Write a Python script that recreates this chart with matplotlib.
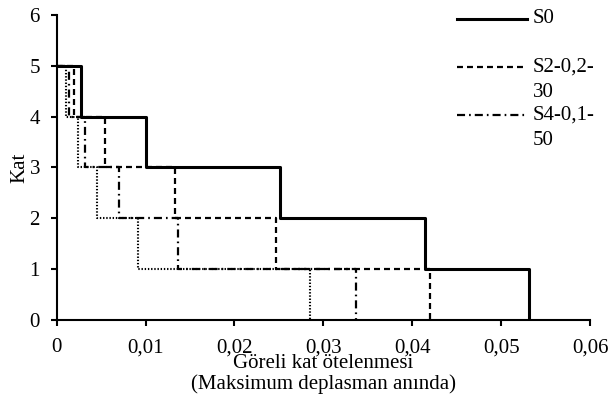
import matplotlib
matplotlib.use("Agg")
import matplotlib.pyplot as plt
import numpy as np

plt.rcParams['font.family'] = ['Liberation Serif', 'DejaVu Serif']
plt.rcParams['lines.scale_dashes'] = False

# story drift per story (stories 1..5)
stories = [1, 2, 3, 4, 5]
s0 = [0.0531, 0.0414, 0.0251, 0.0100, 0.00275]
s2 = [0.0420, 0.0247, 0.0133, 0.00545, 0.0019]
s4 = [0.0337, 0.0137, 0.0070, 0.0032, 0.0014]
s_dot = [0.0285, 0.0091, 0.0045, 0.0024, 0.0010]

labels = [["S0"], ["S2-0,2-", "30"], ["S4-0,1-", "50"]]
x_ticks = [0, 0.01, 0.02, 0.03, 0.04, 0.05, 0.06]
x_ticklabels = ["0", "0,01", "0,02", "0,03", "0,04", "0,05", "0,06"]
y_ticks = [0, 1, 2, 3, 4, 5, 6]

FS = 15


def step_xy(vals):
    xs, ys = [0.0], [stories[-1]]
    for st in reversed(stories):
        v = vals[st - 1]
        xs += [v, v]
        ys += [st, st - 1]
    return xs, ys


fig = plt.figure(figsize=(6.09, 4.01), dpi=100)
ax = fig.add_axes([0.093, 0.202, 0.876, 0.761])

styles = [
    dict(lw=2.2),
    dict(lw=1.6, dashes=(4.3, 2.9)),
    dict(lw=1.6, dashes=(5.8, 2.9, 1.2, 2.9)),
]

x, y = step_xy(s_dot)
ax.plot(x, y, color='black', lw=1.5, dashes=(1.0, 1.3))
x, y = step_xy(s4)
ax.plot(x, y, color='black', **styles[2])
x, y = step_xy(s2)
ax.plot(x, y, color='black', **styles[1])
x, y = step_xy(s0)
ax.plot(x, y, color='black', **styles[0])

ax.set_xlim(0, 0.06)
ax.set_ylim(0, 6)
ax.set_xticks(x_ticks)
ax.set_xticklabels(x_ticklabels)
ax.set_yticks(y_ticks)
ax.tick_params(direction='out', length=4, width=1.5, labelsize=FS)
ax.tick_params(axis='y', pad=8)
ax.tick_params(axis='x', pad=9)
for side in ['top', 'right']:
    ax.spines[side].set_visible(False)
for side in ['left', 'bottom']:
    ax.spines[side].set_linewidth(1.5)

ax.set_ylabel("Kat", fontsize=FS, labelpad=0)
ax.set_xlabel("Göreli kat ötelenmesi\n(Maksimum deplasman anında)", fontsize=FS,
              linespacing=1.05)
ax.xaxis.set_label_coords(0.5, -0.112, transform=ax.transAxes)
ax.xaxis.label.set_va('top')

# legend drawn manually (handle aligned with first text line)
leg_x0, leg_x1, txt_x = 0.751, 0.882, 0.893
leg_y = [0.987, 0.830, 0.672]
line_gap = 0.085
for (st, lab, yy) in zip(styles, labels, leg_y):
    ax.plot([leg_x0, leg_x1], [yy, yy], color='black', transform=ax.transAxes,
            clip_on=False, **st)
    for i, t in enumerate(lab):
        ax.text(txt_x, yy - i * line_gap, t, transform=ax.transAxes, fontsize=FS,
                va='center', ha='left')

fig.savefig("out.png", dpi=100)
